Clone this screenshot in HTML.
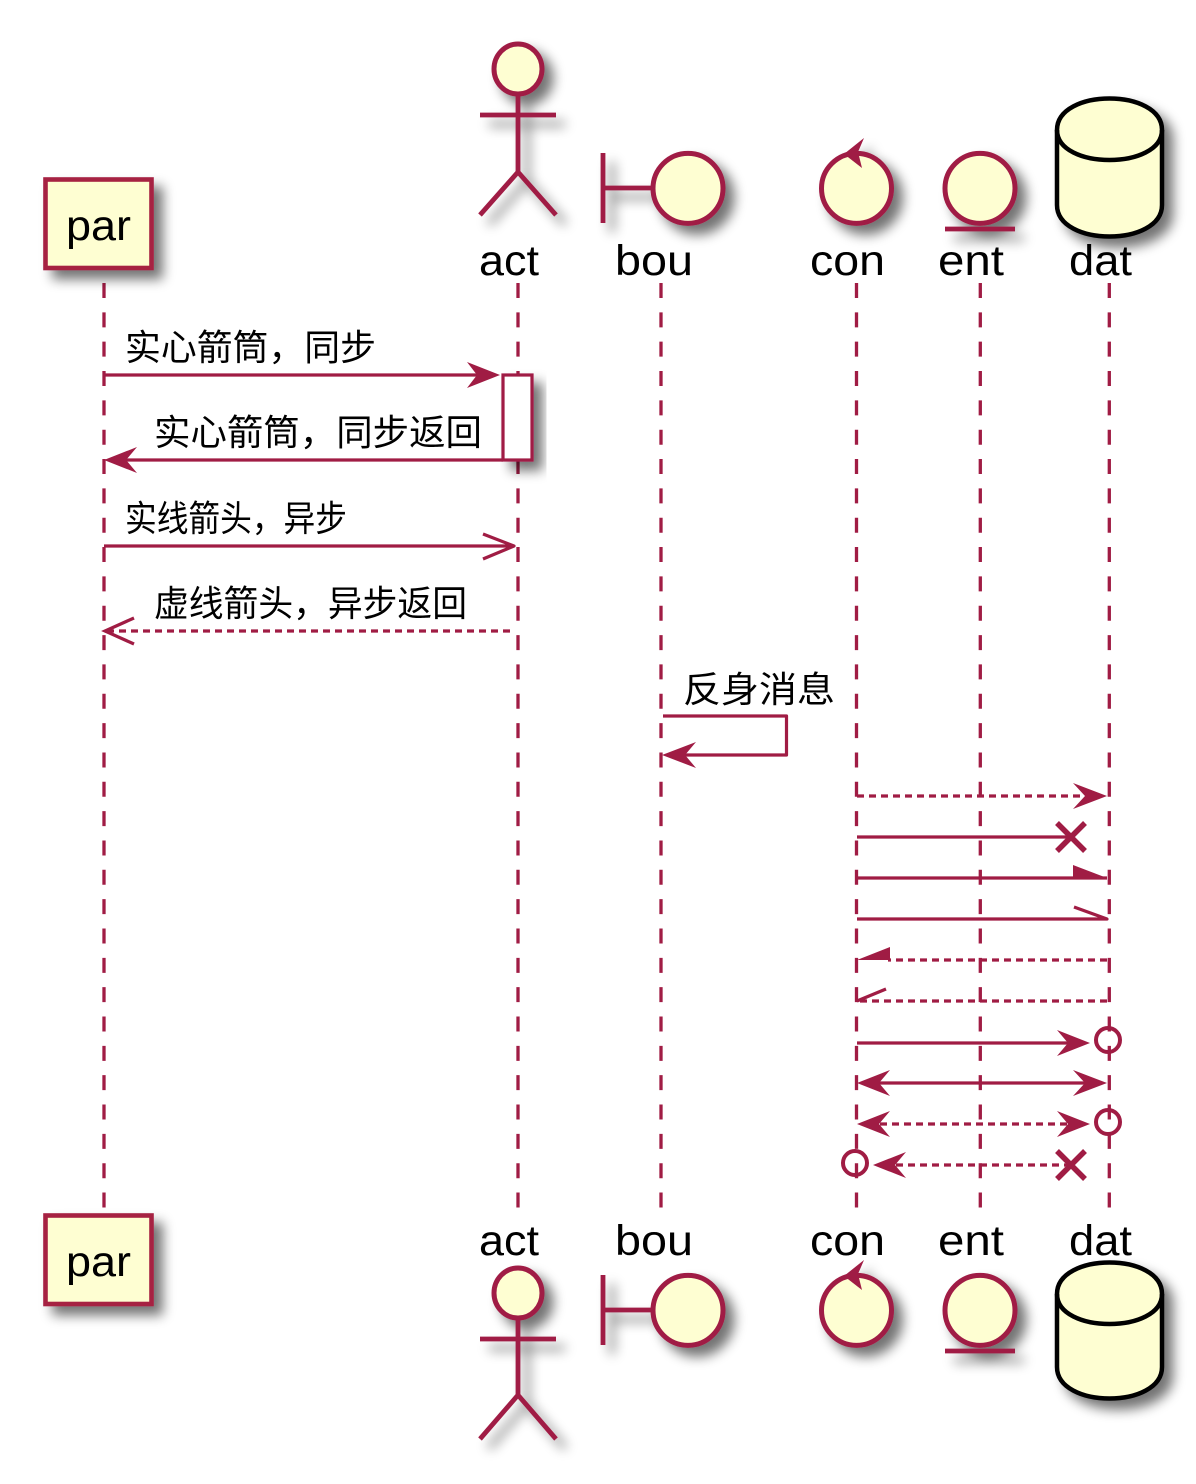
<!DOCTYPE html>
<html><head><meta charset="utf-8"><style>
html,body{margin:0;padding:0;background:#fff;width:1196px;height:1484px;overflow:hidden}
svg{display:block}
text{font-family:"Liberation Sans","Noto Sans CJK SC",sans-serif;fill:#000}
.l{font-size:43px}
.c{font-size:36px}
.ll{stroke:#A01C44;stroke-width:3.3;stroke-dasharray:15 14.34;fill:none}
.m{stroke:#A01C44;stroke-width:3.2;fill:none;stroke-linejoin:round}
.d{stroke:#A01C44;stroke-width:3.2;fill:none;stroke-dasharray:7 5}
.f{fill:#A01C44;stroke:none}
.o{stroke:#A01C44;stroke-width:3.2;fill:none}
.s{stroke:#A01C44;stroke-width:4.8;fill:none}
.b{stroke:#A01C44;stroke-width:5;fill:#FEFED2}
.r{stroke:#A62042;stroke-width:4.6;fill:#FEFED2}
.x{stroke:#A01C44;stroke-width:5.5;fill:none}
.k{stroke:#A01C44;stroke-width:4;fill:none}
</style></head><body>
<svg width="1196" height="1484" viewBox="0 0 1196 1484" xmlns="http://www.w3.org/2000/svg">
<defs><filter id="sh" x="-40%" y="-40%" width="190%" height="190%"><feGaussianBlur in="SourceAlpha" stdDeviation="6"/><feOffset dx="9" dy="9"/><feComponentTransfer><feFuncA type="linear" slope="0.55"/></feComponentTransfer><feMerge><feMergeNode/><feMergeNode in="SourceGraphic"/></feMerge></filter></defs>

<!-- lifelines -->
<path class="ll" d="M104 283V1208M518 283V1208M661 283V1208M856.5 283V1208M980.3 283V1208M1109.3 283V1208"/>

<!-- top participants -->
<rect class="r" x="45.5" y="179.5" width="106" height="88.5" filter="url(#sh)"/>
<text class="l" x="66" y="240" textLength="65" lengthAdjust="spacingAndGlyphs">par</text>
<g filter="url(#sh)">
<ellipse class="b" cx="518" cy="69" rx="24" ry="25"/>
<path class="s" d="M518 94V172M480 115H556M480 215L518 172L556 215"/>
</g>
<text class="l" x="479" y="275" textLength="60" lengthAdjust="spacingAndGlyphs">act</text>
<g filter="url(#sh)">
<path class="s" d="M603 153V223M603 188H652"/>
<circle class="b" cx="688" cy="188.4" r="35"/>
</g>
<text class="l" x="615" y="275" textLength="78" lengthAdjust="spacingAndGlyphs">bou</text>
<g filter="url(#sh)">
<circle class="b" cx="856.5" cy="188.4" r="35"/>
<path class="f" d="M864 138L844 154L862 168L858 152Z"/>
</g>
<text class="l" x="810" y="275" textLength="75" lengthAdjust="spacingAndGlyphs">con</text>
<g filter="url(#sh)">
<circle class="b" cx="980" cy="188.4" r="35"/>
<path class="s" d="M945 229H1015"/>
</g>
<text class="l" x="938" y="275" textLength="66" lengthAdjust="spacingAndGlyphs">ent</text>
<g filter="url(#sh)">
<path d="M1057 130C1057 88 1162 88 1162 130V205C1162 247 1057 247 1057 205Z" fill="#FEFED2" stroke="#000" stroke-width="4.5"/>
<path d="M1057 130C1057 170 1162 170 1162 130" fill="none" stroke="#000" stroke-width="4.5"/>
</g>
<text class="l" x="1069" y="275" textLength="63" lengthAdjust="spacingAndGlyphs">dat</text>

<!-- bottom participants -->
<rect class="r" x="45.5" y="1215.5" width="106" height="88.5" filter="url(#sh)"/>
<text class="l" x="66" y="1276" textLength="65" lengthAdjust="spacingAndGlyphs">par</text>
<g filter="url(#sh)">
<ellipse class="b" cx="518" cy="1293" rx="24" ry="25"/>
<path class="s" d="M518 1318V1395M480 1339H556M480 1439L518 1395L556 1439"/>
</g>
<text class="l" x="479" y="1255" textLength="60" lengthAdjust="spacingAndGlyphs">act</text>
<g filter="url(#sh)">
<path class="s" d="M603 1275V1345M603 1310H652"/>
<circle class="b" cx="688" cy="1310.4" r="35"/>
</g>
<text class="l" x="615" y="1255" textLength="78" lengthAdjust="spacingAndGlyphs">bou</text>
<g filter="url(#sh)">
<circle class="b" cx="856.5" cy="1310.4" r="35"/>
<path class="f" d="M864 1260L844 1276L862 1290L858 1274Z"/>
</g>
<text class="l" x="810" y="1255" textLength="75" lengthAdjust="spacingAndGlyphs">con</text>
<g filter="url(#sh)">
<circle class="b" cx="980" cy="1310.4" r="35"/>
<path class="s" d="M945 1351H1015"/>
</g>
<text class="l" x="938" y="1255" textLength="66" lengthAdjust="spacingAndGlyphs">ent</text>
<g filter="url(#sh)">
<path d="M1057 1294C1057 1252 1162 1252 1162 1294V1367C1162 1409 1057 1409 1057 1367Z" fill="#FEFED2" stroke="#000" stroke-width="4.5"/>
<path d="M1057 1294C1057 1334 1162 1334 1162 1294" fill="none" stroke="#000" stroke-width="4.5"/>
</g>
<text class="l" x="1069" y="1255" textLength="63" lengthAdjust="spacingAndGlyphs">dat</text>

<!-- activation -->
<rect x="503" y="375" width="29" height="85" fill="#fff" stroke="#A01C44" stroke-width="3.2" filter="url(#sh)"/>

<!-- labels -->
<text class="c" x="125" y="360" textLength="251" lengthAdjust="spacingAndGlyphs">实心箭筒，同步</text>
<text class="c" x="154" y="445" textLength="328" lengthAdjust="spacingAndGlyphs">实心箭筒，同步返回</text>
<text class="c" x="125" y="531" textLength="222" lengthAdjust="spacingAndGlyphs">实线箭头，异步</text>
<text class="c" x="154" y="616" textLength="313" lengthAdjust="spacingAndGlyphs">虚线箭头，异步返回</text>
<text class="c" x="683" y="702" textLength="152" lengthAdjust="spacingAndGlyphs">反身消息</text>

<!-- messages -->
<path class="m" d="M104 375H480"/><path class="f" d="M500 375L467 362L477 375L467 388Z"/>
<path class="m" d="M125 460H503"/><path class="f" d="M104 460L137 447L126 460L137 473Z"/>
<path class="m" d="M104 546H514M483 534L514 546L483 559"/>
<path class="d" d="M510 631H106"/><path class="o" d="M134 618L105 631L134 644"/>
<path class="m" d="M663 716H786.500V755H680"/><path class="f" d="M662 755L696 742L685 755L696 768Z"/>

<path class="d" d="M857 796H1088"/><path class="f" d="M1107 796L1073 783L1085 796L1073 809Z"/>
<path class="m" d="M857 837H1071"/><path class="x" d="M1057 823L1085 851M1085 823L1057 851"/>
<path class="m" d="M857 878H1107"/><path class="f" d="M1073 865L1107 878H1073Z"/>
<path class="m" d="M857 919H1107L1074 907"/>
<path class="d" d="M1107 960H888"/><path class="f" d="M890 947L857 960H890Z"/>
<path class="d" d="M1107 1001H860"/><path class="o" d="M886 989L857 1001"/>
<path class="m" d="M857 1043H1070"/><path class="f" d="M1090 1043L1057 1030L1068 1043L1057 1056Z"/>
<circle class="k" cx="1108" cy="1040" r="12"/>
<path class="m" d="M875 1083H1090"/><path class="f" d="M857 1083L890 1070L879 1083L890 1096ZM1107 1083L1073 1070L1085 1083L1073 1096Z"/>
<path class="d" d="M880 1124H1070"/><path class="f" d="M857 1124L890 1111L879 1124L890 1137ZM1090 1124L1057 1111L1068 1124L1057 1137Z"/>
<circle class="k" cx="1108" cy="1122" r="12"/>
<path class="d" d="M1071 1165H895"/><path class="f" d="M873 1165L906 1152L895 1165L906 1178Z"/>
<path class="x" d="M1057 1151L1085 1179M1085 1151L1057 1179"/>
<circle class="k" cx="855" cy="1163" r="12"/>
</svg>
</body></html>
